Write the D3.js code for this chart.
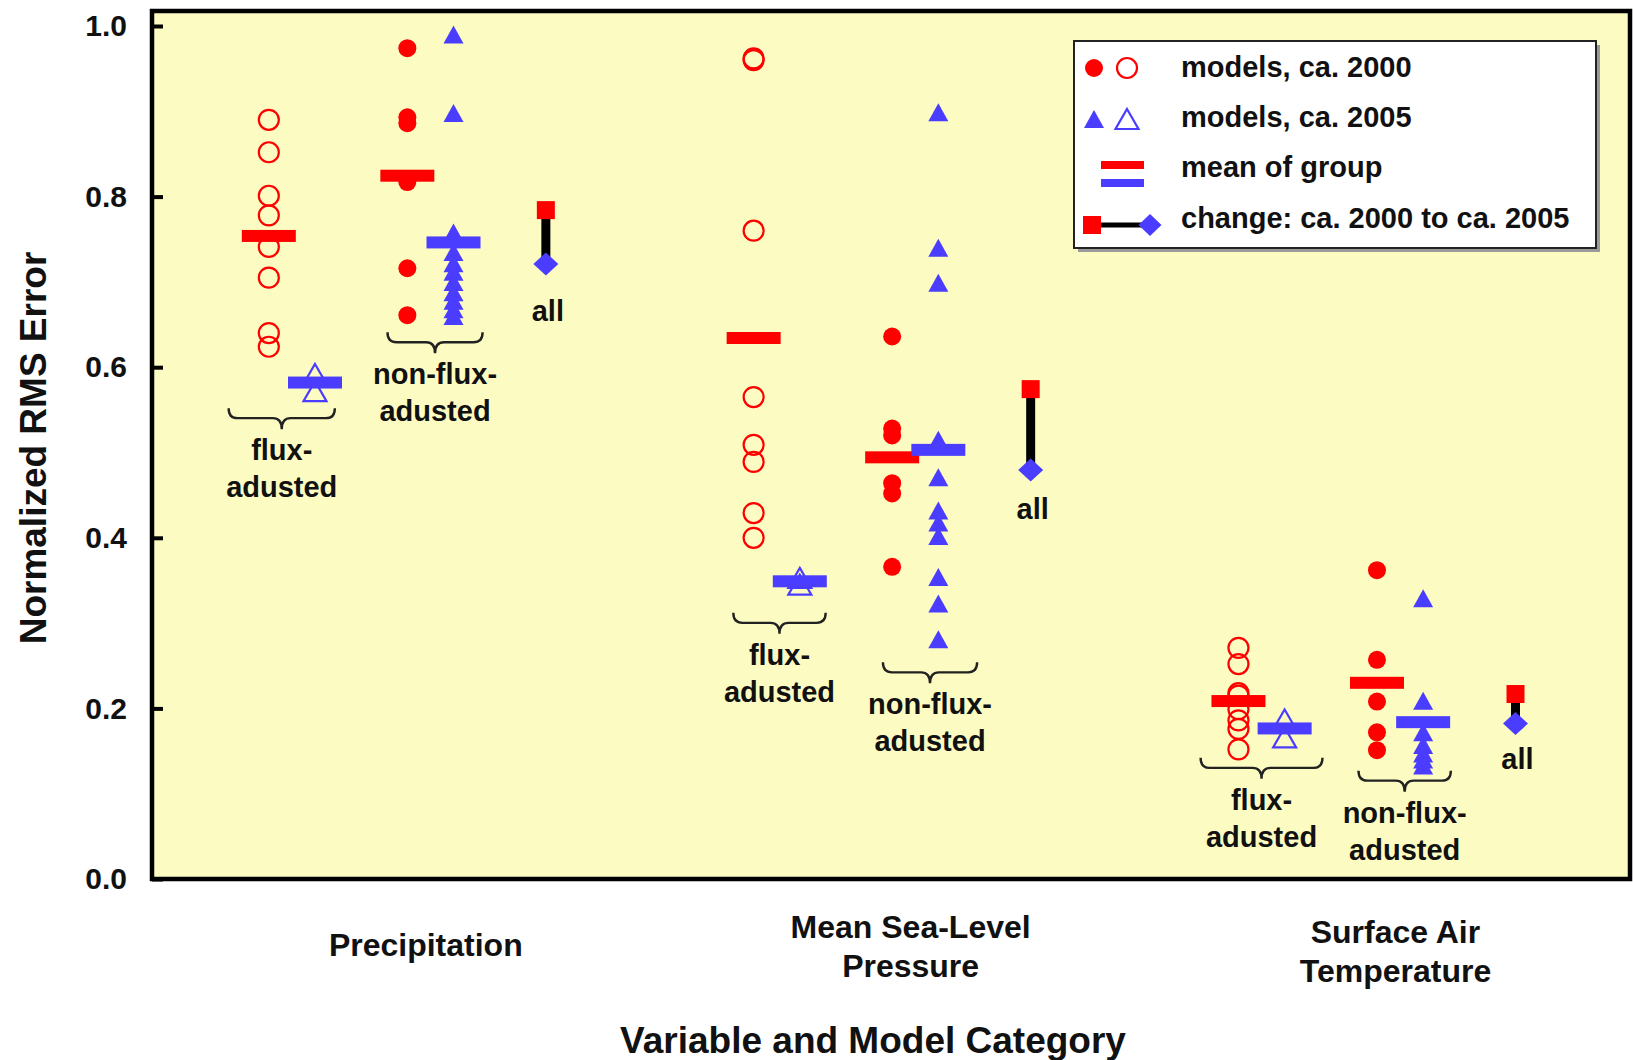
<!DOCTYPE html>
<html>
<head>
<meta charset="utf-8">
<script src="https://cdn.jsdelivr.net/npm/d3@7"></script>
<style>
  html, body { margin: 0; padding: 0; background: #fff; }
  svg text { font-family: "Liberation Sans", Arial, Helvetica, sans-serif; font-weight: bold; fill: #111; }
</style>
</head>
<body>
<svg id="chart" width="1633" height="1060"></svg>
<script>
// ---- data -------------------------------------------------------------
const variables = ["Precipitation", "Mean Sea-Level Pressure", "Surface Air Temperature"];
const variableLines = [["Precipitation"], ["Mean Sea-Level", "Pressure"], ["Surface Air", "Temperature"]];

// normalized RMS error of each model, one list per variable
const fluxAdj2000 = [
  [0.890, 0.852, 0.801, 0.778, 0.741, 0.705, 0.640, 0.624],
  [0.962, 0.960, 0.760, 0.565, 0.509, 0.489, 0.429, 0.400],
  [0.271, 0.252, 0.218, 0.215, 0.199, 0.186, 0.176, 0.152]
];
const fluxAdj2005 = [
  [0.592, 0.572],
  [0.353, 0.345],
  [0.187, 0.166]
];
const nonFlux2000 = [
  [0.974, 0.893, 0.886, 0.817, 0.716, 0.661],
  [0.636, 0.528, 0.520, 0.464, 0.452, 0.366],
  [0.362, 0.257, 0.208, 0.172, 0.151]
];
const nonFlux2005 = [
  [0.990, 0.898, 0.758, 0.735, 0.722, 0.712, 0.700, 0.688, 0.678, 0.668, 0.660],
  [0.899, 0.740, 0.699, 0.515, 0.471, 0.432, 0.418, 0.402, 0.354, 0.323, 0.281],
  [0.329, 0.209, 0.172, 0.157, 0.147, 0.140, 0.133]
];

const yTicks = [0.0, 0.2, 0.4, 0.6, 0.8, 1.0];
const legendLabels = ["models, ca. 2000", "models, ca. 2005", "mean of group", "change: ca. 2000 to ca. 2005"];
const fluxLabel = ["flux-", "adusted"];
const nonFluxLabel = ["non-flux-", "adusted"];
const allLabel = "all";
const xTitle = "Variable and Model Category";
const yTitle = "Normalized RMS Error";

// ---- layout -----------------------------------------------------------
const RED = "#ff0000", BLUE = "#4a3dff";
const plot = { left: 152, right: 1630, top: 11, bottom: 879 };
const varStride = 10.5;          // slot units between variables
const allSlot = 6;
const groups = [
  { values: fluxAdj2000, slot: 0, era: 2000, filled: false },
  { values: fluxAdj2005, slot: 1, era: 2005, filled: false },
  { values: nonFlux2000, slot: 3, era: 2000, filled: true },
  { values: nonFlux2005, slot: 4, era: 2005, filled: true }
];
// brace placement per variable: [flux, non-flux]; mid/span in slot units, top in axis units
const braceLayout = [
  [{ mid: 0.28, span: 2.30, top: 0.552 }, { mid: 3.60, span: 2.06, top: 0.641 }],
  [{ mid: 0.56, span: 2.00, top: 0.312 }, { mid: 3.82, span: 2.04, top: 0.254 }],
  [{ mid: 0.50, span: 2.64, top: 0.142 }, { mid: 3.60, span: 2.00, top: 0.127 }]
];
const allLabelAt = [0.654, 0.422, 0.129];
const categoryBaseline = [956, 938, 943];

const svg = d3.select("#chart");
const x = d3.scaleLinear().domain([-2.53, 29.48]).range([plot.left, plot.right]);
const y = d3.scaleLinear().domain([0, 1]).range([879, 26]);
const slotX = (v, s) => x(v * varStride + s);

// plot background
svg.append("rect")
  .attr("x", plot.left).attr("y", plot.top)
  .attr("width", plot.right - plot.left).attr("height", plot.bottom - plot.top)
  .attr("fill", "#fcfcc2");

// marker shapes
const triPath = (w, h) => `M0,${-h / 2}L${w / 2},${h / 2}L${-w / 2},${h / 2}Z`;
const diamondPath = (w, h) => `M0,${-h / 2}L${w / 2},0L0,${h / 2}L${-w / 2},0Z`;

function drawMarker(g, era, filled, cx, cy) {
  if (era === 2000) {
    if (filled) g.append("circle").attr("cx", cx).attr("cy", cy).attr("r", 9).attr("fill", RED);
    else g.append("circle").attr("cx", cx).attr("cy", cy).attr("r", 10)
      .attr("fill", "none").attr("stroke", RED).attr("stroke-width", 2.2);
  } else {
    if (filled) g.append("path").attr("d", triPath(20, 18))
      .attr("transform", `translate(${cx},${cy})`).attr("fill", BLUE);
    else g.append("path").attr("d", triPath(23, 20))
      .attr("transform", `translate(${cx},${cy})`)
      .attr("fill", "none").attr("stroke", BLUE).attr("stroke-width", 2.2);
  }
}

const marks = svg.append("g");
// individual models
variables.forEach((name, v) => {
  groups.forEach(gr => {
    gr.values[v].forEach(val => drawMarker(marks, gr.era, gr.filled, slotX(v, gr.slot), y(val)));
  });
});
// group means (red first, blue on top)
[2000, 2005].forEach(era => {
  variables.forEach((name, v) => {
    groups.filter(g => g.era === era).forEach(gr => {
      const m = d3.mean(gr.values[v]);
      marks.append("rect")
        .attr("x", slotX(v, gr.slot) - 27).attr("y", y(m) - 6)
        .attr("width", 54).attr("height", 12)
        .attr("fill", era === 2000 ? RED : BLUE);
    });
  });
});
// change of the all-model mean
variables.forEach((name, v) => {
  const a = d3.mean(groups.filter(g => g.era === 2000).flatMap(g => g.values[v]));
  const b = d3.mean(groups.filter(g => g.era === 2005).flatMap(g => g.values[v]));
  const cx = slotX(v, allSlot);
  marks.append("line").attr("x1", cx).attr("x2", cx).attr("y1", y(a)).attr("y2", y(b))
    .attr("stroke", "#000").attr("stroke-width", 9);
  marks.append("rect").attr("x", cx - 9).attr("y", y(a) - 9).attr("width", 18).attr("height", 18).attr("fill", RED);
  marks.append("path").attr("d", diamondPath(25, 23)).attr("transform", `translate(${cx},${y(b)})`).attr("fill", BLUE);
  svg.append("text").attr("x", cx + 2).attr("y", y(allLabelAt[v]))
    .attr("text-anchor", "middle").attr("font-size", 29).text(allLabel);
});

// braces with group labels
function bracePath(x0, x1, top) {
  const xc = (x0 + x1) / 2, ym = top + 10, yt = top + 21, r = 9;
  return `M${x0},${top}Q${x0},${ym} ${x0 + r},${ym}L${xc - r},${ym}Q${xc},${ym} ${xc},${yt}` +
         `Q${xc},${ym} ${xc + r},${ym}L${x1 - r},${ym}Q${x1},${ym} ${x1},${top}`;
}
variables.forEach((name, v) => {
  braceLayout[v].forEach((b, i) => {
    const x0 = slotX(v, b.mid - b.span / 2), x1 = slotX(v, b.mid + b.span / 2);
    const top = y(b.top);
    svg.append("path").attr("d", bracePath(x0, x1, top))
      .attr("fill", "none").attr("stroke", "#222").attr("stroke-width", 2.4);
    const lines = i === 0 ? fluxLabel : nonFluxLabel;
    lines.forEach((t, k) => {
      svg.append("text").attr("x", (x0 + x1) / 2).attr("y", top + 52 + k * 37)
        .attr("text-anchor", "middle").attr("font-size", 29).text(t);
    });
  });
});

// frame
svg.append("rect")
  .attr("x", plot.left).attr("y", plot.top)
  .attr("width", plot.right - plot.left).attr("height", plot.bottom - plot.top)
  .attr("fill", "none").attr("stroke", "#000").attr("stroke-width", 4.5);

// y axis with inward ticks
const yAxis = d3.axisLeft(y).tickValues(yTicks).tickFormat(d3.format(".1f"))
  .tickSize(-11).tickPadding(25);
const ya = svg.append("g").attr("transform", `translate(${plot.left},0)`).call(yAxis);
ya.select(".domain").remove();
ya.selectAll(".tick line").attr("stroke", "#000").attr("stroke-width", 4);
ya.selectAll(".tick text").attr("font-size", 30).attr("font-family", null).attr("fill", "#111");

// category labels
variables.forEach((name, v) => {
  variableLines[v].forEach((t, k) => {
    svg.append("text").attr("x", slotX(v, 3.4)).attr("y", categoryBaseline[v] + k * 39)
      .attr("text-anchor", "middle").attr("font-size", 32).text(t);
  });
});

// axis titles
svg.append("text").attr("x", 873).attr("y", 1053).attr("text-anchor", "middle")
  .attr("font-size", 37).text(xTitle);
svg.append("text").attr("transform", "translate(46,448) rotate(-90)")
  .attr("text-anchor", "middle").attr("font-size", 37).text(yTitle);

// legend
const lg = svg.append("g");
const box = { x: 1074, y: 41, w: 522, h: 207 };
lg.append("rect").attr("x", box.x + 4).attr("y", box.y + 4).attr("width", box.w).attr("height", box.h).attr("fill", "#9a9a9a");
lg.append("rect").attr("x", box.x).attr("y", box.y).attr("width", box.w).attr("height", box.h)
  .attr("fill", "#fff").attr("stroke", "#222").attr("stroke-width", 2);
const rowBase = [77, 127, 177, 228];
legendLabels.forEach((t, i) => {
  lg.append("text").attr("x", 1181).attr("y", rowBase[i]).attr("font-size", 29).text(t);
});
drawMarker(lg, 2000, true, 1094, 68);
drawMarker(lg, 2000, false, 1127, 68);
drawMarker(lg, 2005, true, 1094, 119);
drawMarker(lg, 2005, false, 1127, 119);
lg.append("rect").attr("x", 1101).attr("y", 161).attr("width", 43).attr("height", 8).attr("fill", RED);
lg.append("rect").attr("x", 1101).attr("y", 179).attr("width", 43).attr("height", 8).attr("fill", BLUE);
lg.append("line").attr("x1", 1092).attr("x2", 1150).attr("y1", 225).attr("y2", 225)
  .attr("stroke", "#000").attr("stroke-width", 5);
lg.append("rect").attr("x", 1083).attr("y", 216).attr("width", 18).attr("height", 18).attr("fill", RED);
lg.append("path").attr("d", diamondPath(23, 22)).attr("transform", "translate(1150,225)").attr("fill", BLUE);
</script>
</body>
</html>
